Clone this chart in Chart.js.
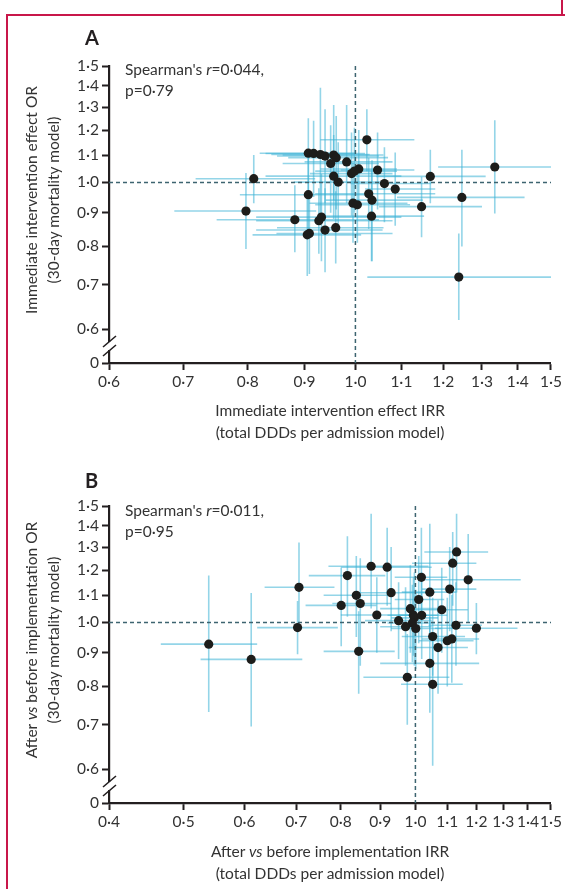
<!DOCTYPE html>
<html>
<head>
<meta charset="utf-8">
<script src="https://cdn.jsdelivr.net/npm/chart.js@4.4.1/dist/chart.umd.min.js"></script>
<style>
  body { margin: 0; background: #fff; }
  #page { position: relative; width: 565px; height: 889px; overflow: hidden; background: #fff;
          font-family: Lato, "Open Sans", sans-serif; color: #231f20; }
  canvas { position: absolute; left: 0; }
  .frame { position: absolute; background: #c8174a; }
  .panel { position: absolute; font-weight: bold; font-size: 20px; }
  .note { position: absolute; font-size: 15.5px; line-height: 21px; color: #333; }
  .xtitle { position: absolute; left: 60px; width: 540px; text-align: center; font-size: 15.5px; line-height: 22px; color: #333; }
  .ytitle { position: absolute; width: 320px; height: 44px; text-align: center; font-size: 15.5px; line-height: 22px;
            color: #333; transform: rotate(-90deg); }
</style>
</head>
<body>
<div id="page">
  <div class="frame" style="left:6px;top:14px;width:559px;height:1.5px"></div>
  <div class="frame" style="left:6px;top:14px;width:1.5px;height:875px"></div>
  <div class="frame" style="left:561px;top:0;width:1.5px;height:14px"></div>

  <canvas id="chartA" width="565" height="445" style="top:0"></canvas>
  <canvas id="chartB" width="565" height="444" style="top:445px"></canvas>

  <div class="panel" style="left:85px;top:25px">A</div>
  <div class="note" style="left:125px;top:59px">Spearman's <i>r</i>=0·044,<br>p=0·79</div>
  <div class="ytitle" style="left:-118px;top:178px">Immediate intervention effect OR<br>(30-day mortality model)</div>
  <div class="xtitle" style="top:399px">Immediate intervention effect IRR<br>(total DDDs per admission model)</div>

  <div class="panel" style="left:85px;top:468px">B</div>
  <div class="note" style="left:125px;top:500px">Spearman's <i>r</i>=0·011,<br>p=0·95</div>
  <div class="ytitle" style="left:-118px;top:618px">After <i>vs</i> before implementation OR<br>(30-day mortality model)</div>
  <div class="xtitle" style="top:840px">After <i>vs</i> before implementation IRR<br>(total DDDs per admission model)</div>
</div>

<script>
// panel A: immediate intervention effect, one entry per hospital
const irrA   = [0.907, 0.917, 0.930, 0.939, 0.956, 0.961, 0.950, 0.982, 1.024, 1.007, 0.992, 0.998, 1.047, 0.956, 0.965, 0.810, 1.168, 1.335, 1.062, 1.086, 0.907, 1.028, 1.035, 1.247, 1.147, 0.797, 0.995, 1.004, 1.034, 0.882, 0.927, 0.932, 0.939, 0.960, 0.905, 0.909, 1.239];
const irrLoA = [0.82, 0.83, 0.84, 0.85, 0.86, 0.87, 0.86, 0.90, 0.93, 0.93, 0.91, 0.92, 0.97, 0.83, 0.88, 0.718, 1.044, 1.187, 0.99, 1.02, 0.787, 0.92, 0.94, 1.09, 1.05, 0.687, 0.909, 0.92, 0.928, 0.75, 0.814, 0.814, 0.814, 0.85, 0.808, 0.849, 1.025];
const irrHiA = [1.00, 1.02, 1.03, 1.05, 1.06, 1.07, 1.05, 1.08, 1.13, 1.09, 1.08, 1.09, 1.13, 1.10, 1.06, 0.92, 1.31, 1.50, 1.17, 1.18, 1.033, 1.18, 1.15, 1.42, 1.30, 0.922, 1.114, 1.12, 1.153, 1.05, 1.08, 1.10, 1.058, 1.06, 1.012, 1.08, 1.50];
const orA    = [1.107, 1.106, 1.102, 1.096, 1.100, 1.090, 1.068, 1.074, 1.160, 1.048, 1.031, 1.040, 1.044, 1.022, 1.001, 1.013, 1.021, 1.055, 0.996, 0.977, 0.958, 0.961, 0.940, 0.949, 0.919, 0.905, 0.930, 0.925, 0.889, 0.878, 0.875, 0.886, 0.847, 0.854, 0.833, 0.837, 0.719];
const orLoA  = [0.95, 0.95, 0.90, 0.93, 0.94, 0.91, 0.90, 0.93, 1.04, 0.92, 0.89, 0.90, 0.91, 0.88, 0.86, 0.93, 0.93, 0.897, 0.87, 0.86, 0.84, 0.85, 0.76, 0.80, 0.826, 0.793, 0.81, 0.81, 0.76, 0.784, 0.78, 0.76, 0.731, 0.754, 0.722, 0.727, 0.619];
const orHiA  = [1.25, 1.24, 1.39, 1.29, 1.31, 1.26, 1.22, 1.31, 1.29, 1.20, 1.19, 1.21, 1.19, 1.18, 1.15, 1.10, 1.12, 1.242, 1.13, 1.11, 1.10, 1.09, 1.08, 1.12, 1.02, 1.033, 1.07, 1.06, 1.04, 0.99, 0.98, 1.03, 0.98, 0.97, 0.96, 0.97, 0.837];

// panel B: after vs before implementation
const irrB   = [0.539, 0.612, 0.703, 0.706, 0.816, 0.876, 0.919, 0.838, 0.801, 0.848, 0.930, 0.891, 0.951, 0.844, 0.976, 0.985, 0.994, 0.997, 0.991, 0.971, 1.001, 1.010, 1.019, 1.018, 1.044, 1.082, 1.108, 1.118, 1.131, 1.171, 1.129, 1.200, 1.053, 1.115, 1.100, 1.070, 1.044, 1.053];
const irrLoB = [0.467, 0.526, 0.623, 0.637, 0.727, 0.771, 0.80, 0.76, 0.72, 0.78, 0.83, 0.80, 0.86, 0.76, 0.856, 0.90, 0.92, 0.93, 0.92, 0.90, 0.93, 0.94, 0.95, 0.94, 0.96, 1.00, 1.02, 0.99, 1.027, 1.03, 1.04, 1.06, 0.96, 1.02, 1.01, 0.98, 0.90, 0.958];
const irrHiB = [0.623, 0.713, 0.793, 0.785, 0.914, 1.04, 1.05, 0.93, 0.89, 0.93, 1.05, 1.00, 1.05, 0.94, 1.107, 1.08, 1.07, 1.07, 1.06, 1.05, 1.08, 1.09, 1.10, 1.10, 1.13, 1.17, 1.20, 1.20, 1.243, 1.37, 1.22, 1.357, 1.16, 1.21, 1.19, 1.17, 1.21, 1.152];
const orB    = [0.927, 0.879, 0.982, 1.130, 1.177, 1.216, 1.212, 1.099, 1.061, 1.068, 1.109, 1.026, 1.006, 0.904, 0.826, 1.049, 1.025, 1.016, 0.998, 0.985, 0.979, 1.083, 1.025, 1.170, 1.111, 1.045, 1.123, 1.229, 1.278, 1.160, 0.990, 0.980, 0.952, 0.944, 0.938, 0.916, 0.867, 0.806];
const orLoB  = [0.732, 0.696, 0.895, 0.976, 1.02, 1.05, 1.06, 0.95, 0.92, 0.86, 0.97, 0.90, 0.88, 0.78, 0.70, 0.90, 0.89, 0.86, 0.87, 0.86, 0.85, 0.93, 0.88, 1.01, 0.95, 0.90, 0.97, 1.06, 1.11, 1.00, 0.86, 0.895, 0.83, 0.81, 0.80, 0.78, 0.73, 0.607];
const orHiB  = [1.177, 1.108, 1.077, 1.321, 1.35, 1.46, 1.39, 1.26, 1.21, 1.25, 1.30, 1.17, 1.15, 1.04, 0.96, 1.22, 1.17, 1.19, 1.14, 1.13, 1.12, 1.26, 1.19, 1.39, 1.41, 1.21, 1.30, 1.37, 1.46, 1.36, 1.15, 1.07, 1.09, 1.10, 1.09, 1.08, 1.02, 0.96];

// tick values; the lowest y tick sits below the axis break and is labelled 0
const yTicks  = [0.533, 0.6, 0.7, 0.8, 0.9, 1.0, 1.1, 1.2, 1.3, 1.4, 1.5];
const xTicksA = [0.6, 0.7, 0.8, 0.9, 1.0, 1.1, 1.2, 1.3, 1.4, 1.5];
const xTicksB = [0.4, 0.5, 0.6, 0.7, 0.8, 0.9, 1.0, 1.1, 1.2, 1.3, 1.4, 1.5];

const INK = '#231f20';
const fmt = v => v.toFixed(1).replace('.', '\u00b7');

// error bars + reference lines at 1, drawn under the points
const errorBars = {
  id: 'errorBars',
  beforeDatasetsDraw(chart, args, opts) {
    const { ctx, chartArea: a, scales: { x, y } } = chart;
    ctx.save();
    ctx.strokeStyle = 'rgba(60,178,214,0.55)';
    ctx.lineWidth = 1.6;
    opts.x.forEach((xv, i) => {
      const px = x.getPixelForValue(xv), py = y.getPixelForValue(opts.y[i]);
      ctx.beginPath();
      ctx.moveTo(x.getPixelForValue(opts.xLo[i]), py);
      ctx.lineTo(x.getPixelForValue(opts.xHi[i]), py);
      ctx.moveTo(px, y.getPixelForValue(opts.yLo[i]));
      ctx.lineTo(px, y.getPixelForValue(opts.yHi[i]));
      ctx.stroke();
    });
    ctx.strokeStyle = '#3d6470';
    ctx.lineWidth = 1.5;
    ctx.setLineDash([4, 3]);
    const x1 = x.getPixelForValue(1), y1 = y.getPixelForValue(1);
    ctx.beginPath();
    ctx.moveTo(a.left, y1); ctx.lineTo(a.right, y1);
    ctx.moveTo(x1, a.top); ctx.lineTo(x1, a.bottom);
    ctx.stroke();
    ctx.restore();
  },
  afterDraw(chart) {
    // axis break between 0.6 and 0
    const { ctx, chartArea: a, scales: { y } } = chart;
    const mid = (y.getPixelForValue(0.6) + y.getPixelForValue(yTicks[0])) / 2;
    ctx.save();
    ctx.fillStyle = '#fff';
    ctx.fillRect(a.left - 3, mid - 4, 6, 8);
    ctx.strokeStyle = INK;
    ctx.lineWidth = 1.6;
    ctx.beginPath();
    ctx.moveTo(a.left - 6, mid + 1); ctx.lineTo(a.left + 7, mid - 10);
    ctx.moveTo(a.left - 6, mid + 10); ctx.lineTo(a.left + 7, mid - 1);
    ctx.stroke();
    ctx.restore();
  }
};

function axis(ticks, min, afterFit, label) {
  return {
    type: 'logarithmic', min: min, max: 1.5,
    afterBuildTicks: s => { s.ticks = ticks.map(v => ({ value: v })); },
    afterFit: afterFit,
    grid: { drawOnChartArea: false, tickLength: 7, tickWidth: 2, tickColor: INK },
    border: { color: INK, width: 2.2 },
    ticks: { autoSkip: false, maxRotation: 0, padding: 3, color: '#333',
             font: { family: 'Lato', size: 15.5 }, callback: label }
  };
}

function makeChart(id, xs, ys, err, xTicks, xMin, padTop, padBottom) {
  return new Chart(document.getElementById(id), {
    type: 'scatter',
    data: { datasets: [{
      data: xs.map((v, i) => ({ x: v, y: ys[i] })),
      backgroundColor: '#1d1d1b', borderWidth: 0, pointRadius: 4.6
    }] },
    options: {
      responsive: false, animation: false, devicePixelRatio: 1,
      layout: { padding: { top: padTop, right: 13, bottom: padBottom, left: 0 } },
      plugins: { legend: { display: false }, tooltip: { enabled: false }, errorBars: err },
      scales: {
        x: axis(xTicks, xMin, s => { s.height = 30; }, v => fmt(v)),
        y: axis(yTicks, yTicks[0], s => { s.width = 109; }, (v, i) => i === 0 ? '0' : fmt(v))
      }
    },
    plugins: [errorBars]
  });
}

makeChart('chartA', irrA, orA, { x: irrA, xLo: irrLoA, xHi: irrHiA, y: orA, yLo: orLoA, yHi: orHiA },
          xTicksA, 0.6, 66, 52);
makeChart('chartB', irrB, orB, { x: irrB, xLo: irrLoB, xHi: irrHiB, y: orB, yLo: orLoB, yHi: orHiB },
          xTicksB, 0.4, 61, 56);
</script>
</body>
</html>
